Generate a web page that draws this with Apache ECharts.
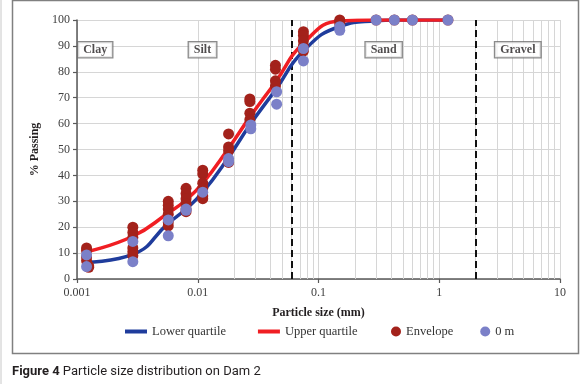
<!DOCTYPE html>
<html>
<head>
<meta charset="utf-8">
<script src="https://cdn.jsdelivr.net/npm/echarts@6/dist/echarts.min.js"></script>
<style>html,body{margin:0;padding:0;background:#fff}#c{width:580px;height:384px}</style>
</head>
<body>
<div id="c"></div>
<script>
// ---- data ----
const xTickLabels = ['0.001', '0.01', '0.1', '1', '10'];
const sieveSizes = [0.0012, 0.0029, 0.0057, 0.008, 0.011, 0.018, 0.027, 0.044, 0.075, 0.15, 0.3, 0.425, 0.6, 1.18];
const lowerQuartile = [6.5, 9.5, 21.5, 27, 33.5, 47, 59.5, 73, 88, 97.5, 99.7, 100, 100, 100];
const upperQuartile = [10.5, 16.5, 25.5, 30.5, 37, 50.5, 62.5, 76, 91, 99.6, 100, 100, 100, 100];
const envelope = [
  [0.0012, 12], [0.0012, 11], [0.0012, 8.5], [0.0012, 7], [0.00125, 5], [0.00125, 4.5],
  [0.0029, 20], [0.0029, 18], [0.0029, 16], [0.0029, 12], [0.0029, 10.5], [0.0029, 9],
  [0.0057, 30], [0.0057, 28.5], [0.0057, 27], [0.0057, 25], [0.0057, 22], [0.0057, 20.5],
  [0.008, 35], [0.008, 33], [0.008, 31], [0.008, 29], [0.008, 27], [0.008, 26],
  [0.011, 42], [0.011, 40.5], [0.011, 37], [0.011, 35], [0.011, 32], [0.011, 31],
  [0.018, 56], [0.018, 51], [0.018, 49.5], [0.018, 45],
  [0.027, 69.5], [0.027, 68.5], [0.027, 64], [0.027, 61.5],
  [0.044, 82.5], [0.044, 81], [0.044, 76.5], [0.044, 74.5],
  [0.075, 95.5], [0.075, 94], [0.075, 92], [0.075, 90], [0.075, 88],
  [0.15, 100], [0.15, 99.5], [0.15, 98.5],
  [0.3, 100], [0.425, 100], [0.6, 100], [1.18, 100]
];
const zeroM = [
  [0.0012, 9.3], [0.0012, 4.8], [0.0029, 14.5], [0.0029, 6.7],
  [0.0057, 22.8], [0.0057, 16.7], [0.008, 27], [0.008, 26.5],
  [0.011, 33.5], [0.018, 46.5], [0.018, 45.3], [0.0275, 59.5], [0.0275, 58],
  [0.045, 72.3], [0.045, 67.5], [0.075, 89], [0.075, 84.2],
  [0.15, 97.4], [0.15, 96], [0.3, 100], [0.425, 100], [0.6, 100], [1.18, 100]
];
const boundaries = [0.002, 0.06, 2];
const regionNames = ['Clay', 'Silt', 'Sand', 'Gravel'];
const regionLabelY = 88.5;
const xMin = 0.001, xMax = 10;

// ---- derived ----
const minorGrid = [];
for (let d = xMin; d < xMax * 0.99; d *= 10) {
  for (let k = 2; k <= 9; k++) minorGrid.push(+(d * k).toPrecision(3));
}
const edges = [xMin].concat(boundaries, [xMax]);
const regionPoints = regionNames.map((n, i) => ({ name: n, value: [Math.sqrt(edges[i] * edges[i + 1]), regionLabelY] }));
const pairs = (xs, ys) => xs.map((x, i) => [x, ys[i]]);

const serif = 'Liberation Serif';
const chart = echarts.init(document.getElementById('c'), null, { renderer: 'canvas' });
chart.setOption({
  animation: false,
  backgroundColor: '#fff',
  grid: { left: 77, top: 20, right: 20, bottom: 105 },
  xAxis: {
    type: 'log', logBase: 10, min: xMin, max: xMax,
    name: 'Particle size (mm)', nameLocation: 'middle', nameGap: 28,
    nameTextStyle: { fontFamily: serif, fontWeight: 'bold', fontSize: 12, color: '#231f20' },
    axisLine: { show: true, onZero: false, lineStyle: { color: '#595959', width: 1.5 } },
    axisTick: { show: true, length: 4, lineStyle: { color: '#595959', width: 1.2 } },
    axisLabel: { fontFamily: serif, fontSize: 12, color: '#404040', margin: 8, formatter: (v, i) => xTickLabels[i] },
    splitLine: { show: true, lineStyle: { color: '#d6d6d6', width: 1 } }
  },
  yAxis: {
    type: 'value', min: 0, max: 100, interval: 10,
    name: '% Passing', nameLocation: 'middle', nameGap: 28, nameRotate: 90,
    nameTextStyle: { fontFamily: serif, fontWeight: 'bold', fontSize: 12, color: '#231f20' },
    axisLine: { show: true, lineStyle: { color: '#595959', width: 1.5 } },
    axisTick: { show: true, length: 4, lineStyle: { color: '#595959', width: 1.2 } },
    axisLabel: { fontFamily: serif, fontSize: 12, color: '#404040', margin: 7 },
    splitLine: { show: true, lineStyle: { color: '#d6d6d6', width: 1 } }
  },
  legend: [
    {
      data: [{ name: 'Lower quartile', icon: 'rect' }, { name: 'Upper quartile', icon: 'rect' }],
      left: 120, top: 320, itemWidth: 22, itemHeight: 4, itemGap: 32,
      textStyle: { fontFamily: serif, fontSize: 12.5, color: '#333' }
    },
    {
      data: [{ name: 'Envelope', icon: 'circle' }, { name: '0 m', icon: 'circle' }],
      left: 386, top: 320, itemWidth: 10, itemHeight: 10, itemGap: 27,
      textStyle: { fontFamily: serif, fontSize: 12.5, color: '#333' }
    }
  ],
  graphic: [
    { type: 'rect', shape: { x: 12.5, y: 0.5, width: 566, height: 353 }, style: { fill: 'none', stroke: '#808080', lineWidth: 1.5 }, z: 100 },
    { type: 'line', shape: { x1: 1, y1: 0, x2: 1, y2: 384 }, style: { stroke: '#c8c8c8', lineWidth: 1 } },
    {
      type: 'text', left: 12, top: 365,
      style: {
        text: '{b|Figure 4} Particle size distribution on Dam 2',
        rich: { b: { fontFamily: 'Roboto', fontWeight: 'bold', fontSize: 13, fill: '#231f20' } },
        fontFamily: 'Roboto', fontSize: 13, fill: '#231f20'
      }
    }
  ],
  series: [
    {
      name: 'minorGrid', type: 'line', data: [], z: 1, silent: true,
      markLine: {
        silent: true, symbol: 'none', label: { show: false }, animation: false, z: 1,
        lineStyle: { color: '#d6d6d6', width: 1, type: 'solid' },
        data: minorGrid.map(v => ({ xAxis: v }))
      }
    },
    {
      name: 'bounds', type: 'line', data: [], z: 2, silent: true,
      markLine: {
        silent: true, symbol: 'none', label: { show: false }, animation: false, z: 2,
        lineStyle: { color: '#111', width: 2, type: [7, 4] },
        data: boundaries.map(v => ({ xAxis: v }))
      }
    },
    {
      name: 'regions', type: 'scatter', data: regionPoints, symbolSize: 1, z: 3, silent: true,
      itemStyle: { color: 'rgba(0,0,0,0)' },
      label: {
        show: true, position: 'inside', formatter: '{b}',
        fontFamily: serif, fontWeight: 'bold', fontSize: 12, color: '#231f20',
        backgroundColor: '#fff', borderColor: '#6e6e6e', borderWidth: 1.3, padding: [2, 5, 1, 5]
      }
    },
    {
      name: 'Lower quartile', type: 'line', smooth: 0.5, showSymbol: false, z: 4,
      data: pairs(sieveSizes, lowerQuartile), color: '#1f3c9c',
      lineStyle: { color: '#1f3c9c', width: 3.5 }
    },
    {
      name: 'Upper quartile', type: 'line', smooth: 0.5, showSymbol: false, z: 5,
      data: pairs(sieveSizes, upperQuartile), color: '#f01e23',
      lineStyle: { color: '#f01e23', width: 3.5 }
    },
    {
      name: 'Envelope', type: 'scatter', data: envelope, symbolSize: 11, z: 6,
      itemStyle: { color: '#a3221b', opacity: 1 }
    },
    {
      name: '0 m', type: 'scatter', data: zeroM, symbolSize: 11, z: 7,
      itemStyle: { color: '#7b80c8', opacity: 1 }
    }
  ]
});
</script>
</body>
</html>
